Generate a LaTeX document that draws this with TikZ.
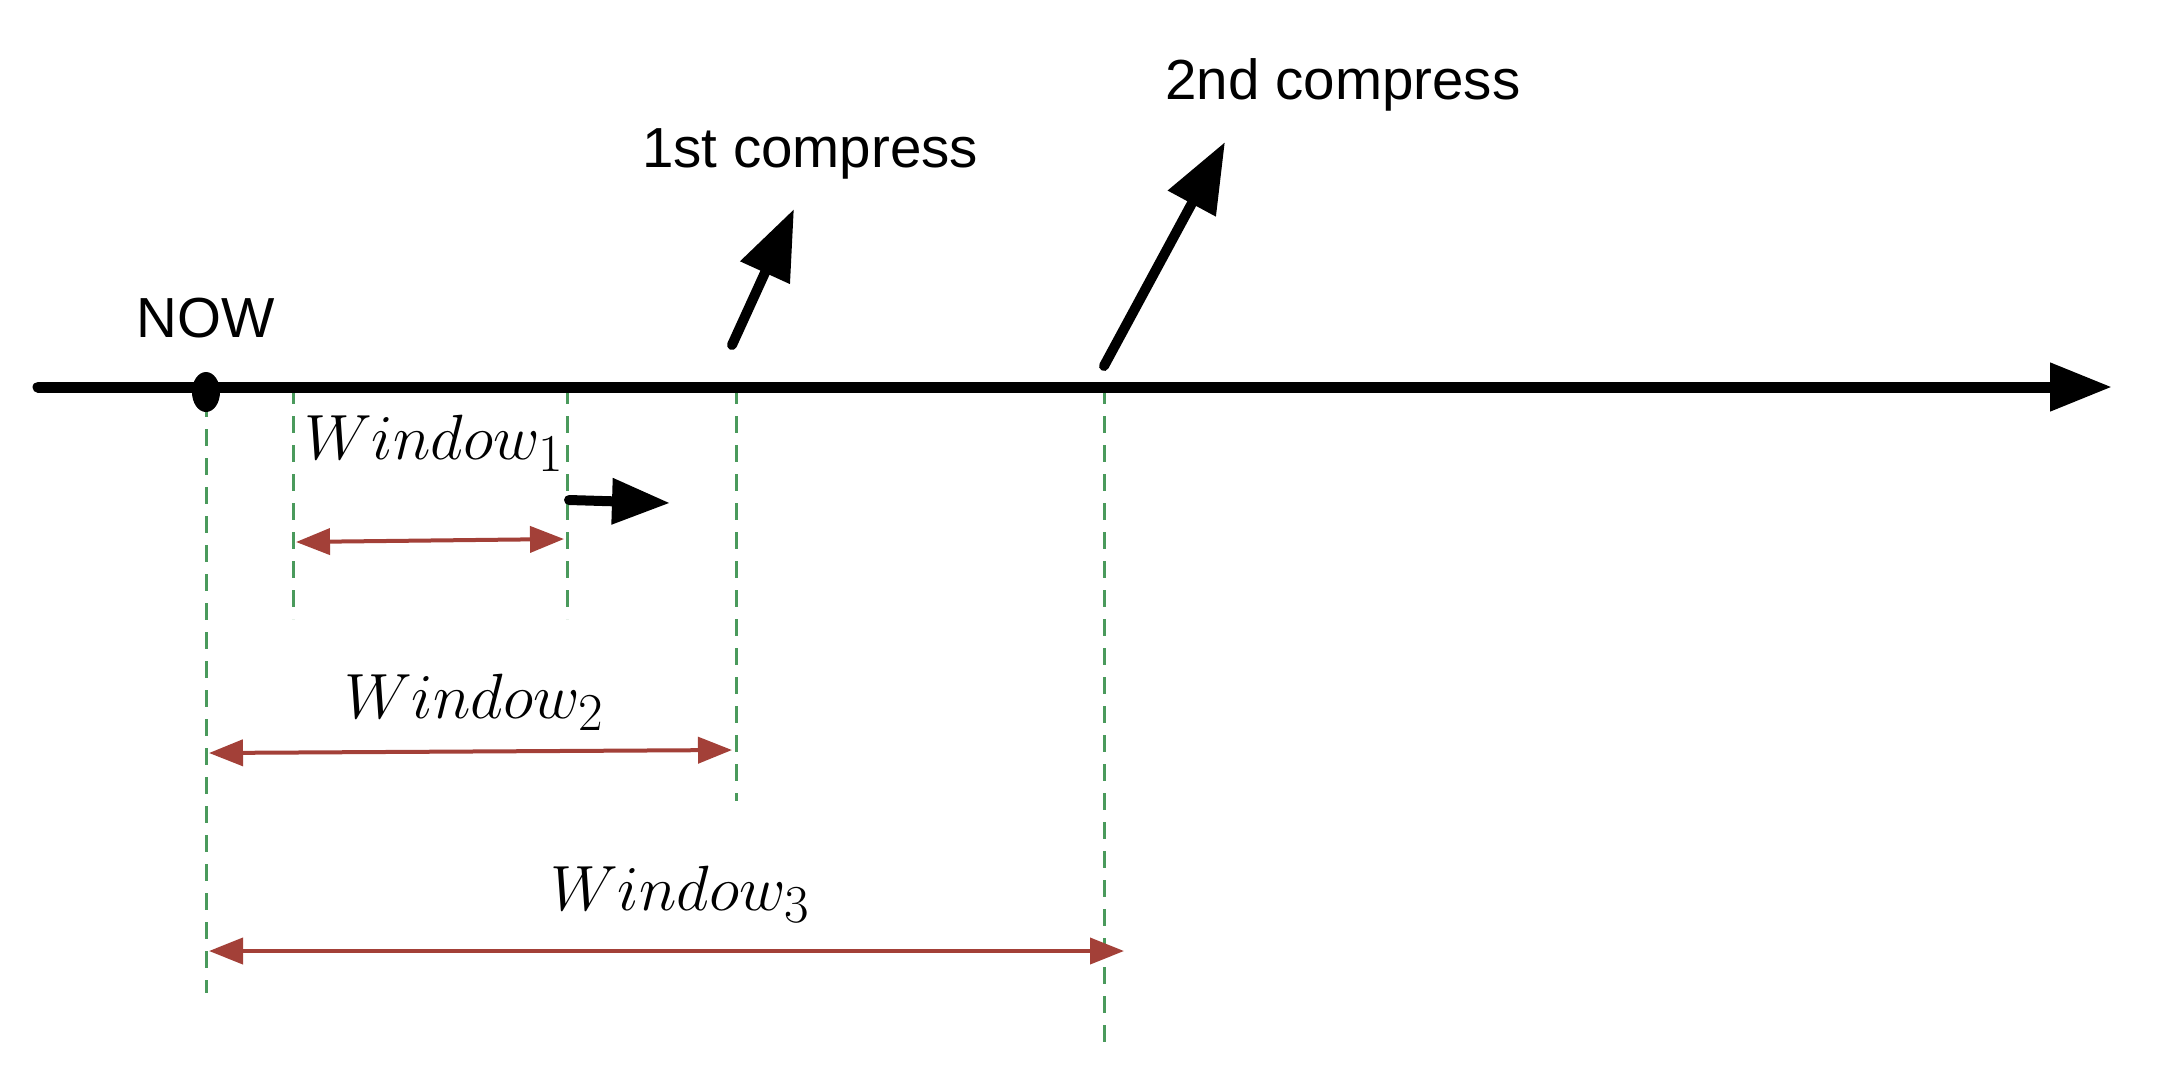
\documentclass[tikz,border=0pt]{standalone}
\usepackage{fontspec}
\setmainfont{Liberation Sans}
\usetikzlibrary{arrows.meta,shapes.geometric}
\definecolor{winred}{RGB}{163,64,56}
\definecolor{guidegreen}{RGB}{74,154,92}
\tikzset{
  axisline/.style={line width=11pt, line cap=round, -{Triangle[length=62pt,width=46pt]}},
  pointer/.style={line width=10pt, line cap=round, -{Triangle[length=70pt,width=52pt]}},
  guide/.style={guidegreen, line width=3pt, dash pattern=on 17pt off 12pt},
  span/.style={winred, line width=4pt, {Triangle[length=34pt,width=26pt]}-{Triangle[length=34pt,width=26pt]}},
  textlabel/.style={font=\fontsize{56.5}{60}\selectfont, inner sep=0pt},
  mathlabel/.style={font=\Huge, scale=2.57, inner sep=0pt},
}
\begin{document}
\begin{tikzpicture}[x=1pt,y=-1pt]
\useasboundingbox[fill=white] (0,0) rectangle (2158,1072);
% axis
\coordinate (axS) at (38,387);
\coordinate (axE) at (2112,387);
% guide line positions on axis
\coordinate (g0t) at (206,400); \coordinate (g0b) at (206,993);
\coordinate (g1t) at (293,387); \coordinate (g1b) at (293,619);
\coordinate (g2t) at (567,387); \coordinate (g2b) at (567,619);
\coordinate (g3t) at (736,387); \coordinate (g3b) at (736,801);
\coordinate (g4t) at (1104,387); \coordinate (g4b) at (1104,1043);
% guides
\draw[guide] (g0t) -- (g0b);
\draw[guide] (g1t) -- (g1b);
\draw[guide] (g2t) -- (g2b);
\draw[guide] (g3t) -- (g3b);
\draw[guide] (g4t) -- (g4b);
% axis
\draw[axisline] (axS) -- (axE);
% NOW dot
\node (dot) [ellipse, fill=black, minimum width=28pt, minimum height=40pt, inner sep=0pt] at (206,392) {};
\node (now) [textlabel] at (206,318) {NOW};
% compress arrows
\coordinate (c1s) at (732,345);
\coordinate (c1e) at (794,209);
\draw[pointer] (c1s) -- (c1e);
\node (c1) [textlabel] at (810,154) {1st compress};
\coordinate (c2s) at (1104,366);
\coordinate (c2e) at (1225,142);
\draw[pointer] (c2s) -- (c2e);
\node (c2) [textlabel] at (1343,85) {2nd compress};
% small move arrow
\coordinate (ms) at (569,500);
\coordinate (me) at (670,503);
\draw[line width=10pt, line cap=round, -{Triangle[length=58pt,width=44pt]}] (ms) -- (me);
% windows
\coordinate (w1a) at (296,542); \coordinate (w1b) at (564,539);
\draw[span] (w1a) -- (w1b);
\node (w1) [mathlabel] at (434,443) {$Window_1$};
\coordinate (w2a) at (209,753); \coordinate (w2b) at (732,750);
\draw[span] (w2a) -- (w2b);
\node (w2) [mathlabel] at (474,702) {$Window_2$};
\coordinate (w3a) at (209,951); \coordinate (w3b) at (1124,951);
\draw[span] (w3a) -- (w3b);
\node (w3) [mathlabel] at (680,894) {$Window_3$};
\end{tikzpicture}
\end{document}
